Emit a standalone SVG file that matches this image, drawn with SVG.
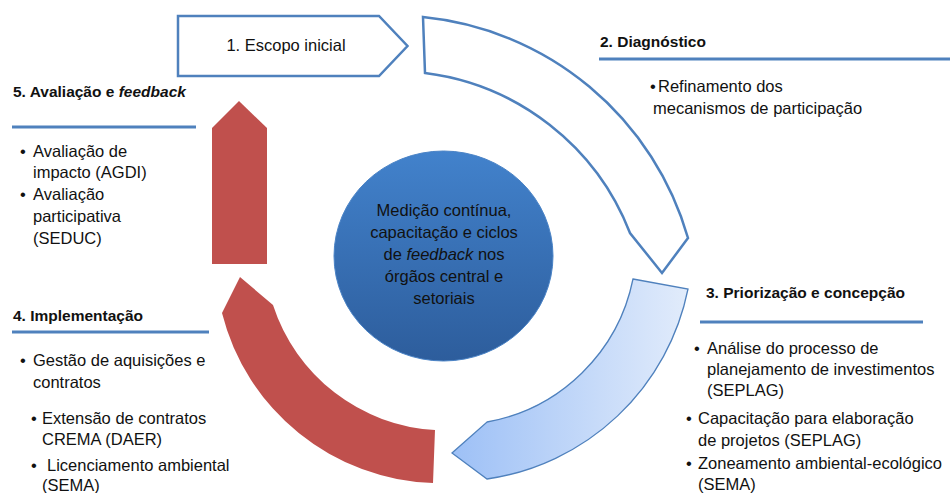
<svg xmlns="http://www.w3.org/2000/svg" width="950" height="493" viewBox="0 0 950 493">
<defs>
<linearGradient id="gBlue3" gradientUnits="userSpaceOnUse" x1="452" y1="0" x2="690" y2="0">
<stop offset="0" stop-color="#9dc0f6"/>
<stop offset="1" stop-color="#e2ecfb"/>
</linearGradient>
<linearGradient id="gCircle" x1="0" y1="0" x2="0" y2="1">
<stop offset="0" stop-color="#4282cc"/>
<stop offset="1" stop-color="#2d5d9c"/>
</linearGradient>
<style>
text{font-family:"Liberation Sans",Arial,sans-serif;fill:#111;}
.h{font-size:15.5px;font-weight:bold;}
.b{font-size:16.5px;}
.c{font-size:16.5px;text-anchor:middle;}
.rule{stroke:#4f81bd;stroke-width:3;fill:none;}
.outline{fill:#fff;stroke:#4f81bd;stroke-width:2.5;stroke-linejoin:miter;}
.red{fill:#c0504d;}
</style>
</defs>
<rect width="950" height="493" fill="#fff"/>

<g id="arrows">
<g id="step1">
<polygon class="outline" points="178,16 379,16 407.5,46 379,76 178,76"/>
<text class="c" x="286" y="51">1. Escopo inicial</text>
</g>
<g id="step2-arrow">
<path class="outline" d="M423,17 A307,307 0 0 1 688,238 L662,273 L630,233 A254,254 0 0 0 425,73 Z"/>
</g>
<g id="step3-arrow">
<path d="M633,279 L688,289 A240,240 0 0 1 487,479 L452,453 L487,422 A182,182 0 0 0 633,279 Z" fill="url(#gBlue3)" stroke="#4f81bd" stroke-width="1.3"/>
</g>
<g id="step4-arrow">
<path class="red" d="M240,277 L222,313 A225,225 0 0 0 433,483 L435,430 A181,181 0 0 1 273,305 Z"/>
</g>
<g id="step5-arrow">
<polygon class="red" points="239,101 267,128 267,264 212,264 212,128"/>
</g>
</g>

<g id="center">
<ellipse cx="443.5" cy="256" rx="109.5" ry="105" fill="url(#gCircle)" stroke="#4a83c6" stroke-width="1"/>
<text class="c" x="444" y="216">Medição contínua,</text>
<text class="c" x="444" y="238">capacitação e ciclos</text>
<text class="c" x="444" y="260">de <tspan font-style="italic">feedback</tspan> nos</text>
<text class="c" x="444" y="282">órgãos central e</text>
<text class="c" x="444" y="304">setoriais</text>
</g>

<g id="label2">
<text class="h" x="600" y="47">2. Diagnóstico</text>
<line class="rule" x1="599" y1="59" x2="950" y2="59"/>
<text class="b" x="650" y="92" font-size="14">•</text>
<text class="b" x="658" y="92">Refinamento dos</text>
<text class="b" x="653" y="114">mecanismos de participação</text>
</g>

<g id="label3">
<text class="h" x="706" y="298">3. Priorização e concepção</text>
<line class="rule" x1="700" y1="322" x2="923" y2="322"/>
<text class="b" x="694" y="354">•</text>
<text class="b" x="707" y="354">Análise do processo de</text>
<text class="b" x="707" y="375">planejamento de investimentos</text>
<text class="b" x="707" y="396">(SEPLAG)</text>
<text class="b" x="686" y="424">•</text>
<text class="b" x="698" y="424">Capacitação para elaboração</text>
<text class="b" x="698" y="446">de projetos (SEPLAG)</text>
<text class="b" x="686" y="469">•</text>
<text class="b" x="698" y="469">Zoneamento ambiental-ecológico</text>
<text class="b" x="698" y="490">(SEMA)</text>
</g>

<g id="label4">
<text class="h" x="13" y="321">4. Implementação</text>
<line class="rule" x1="12" y1="332" x2="209" y2="332"/>
<text class="b" x="20" y="366">•</text>
<text class="b" x="33" y="366">Gestão de aquisições e</text>
<text class="b" x="33" y="388">contratos</text>
<text class="b" x="31" y="424">•</text>
<text class="b" x="42" y="424">Extensão de contratos</text>
<text class="b" x="42" y="445">CREMA (DAER)</text>
<text class="b" x="31" y="471">•</text>
<text class="b" x="47" y="471">Licenciamento ambiental</text>
<text class="b" x="42" y="491">(SEMA)</text>
</g>

<g id="label5">
<text class="h" x="13" y="97">5. Avaliação e <tspan font-style="italic">feedback</tspan></text>
<line class="rule" x1="12" y1="127" x2="196" y2="127"/>
<text class="b" x="20" y="157">•</text>
<text class="b" x="33" y="157">Avaliação de</text>
<text class="b" x="33" y="178">impacto (AGDI)</text>
<text class="b" x="20" y="200">•</text>
<text class="b" x="33" y="200">Avaliação</text>
<text class="b" x="33" y="222">participativa</text>
<text class="b" x="33" y="244">(SEDUC)</text>
</g>
</svg>
